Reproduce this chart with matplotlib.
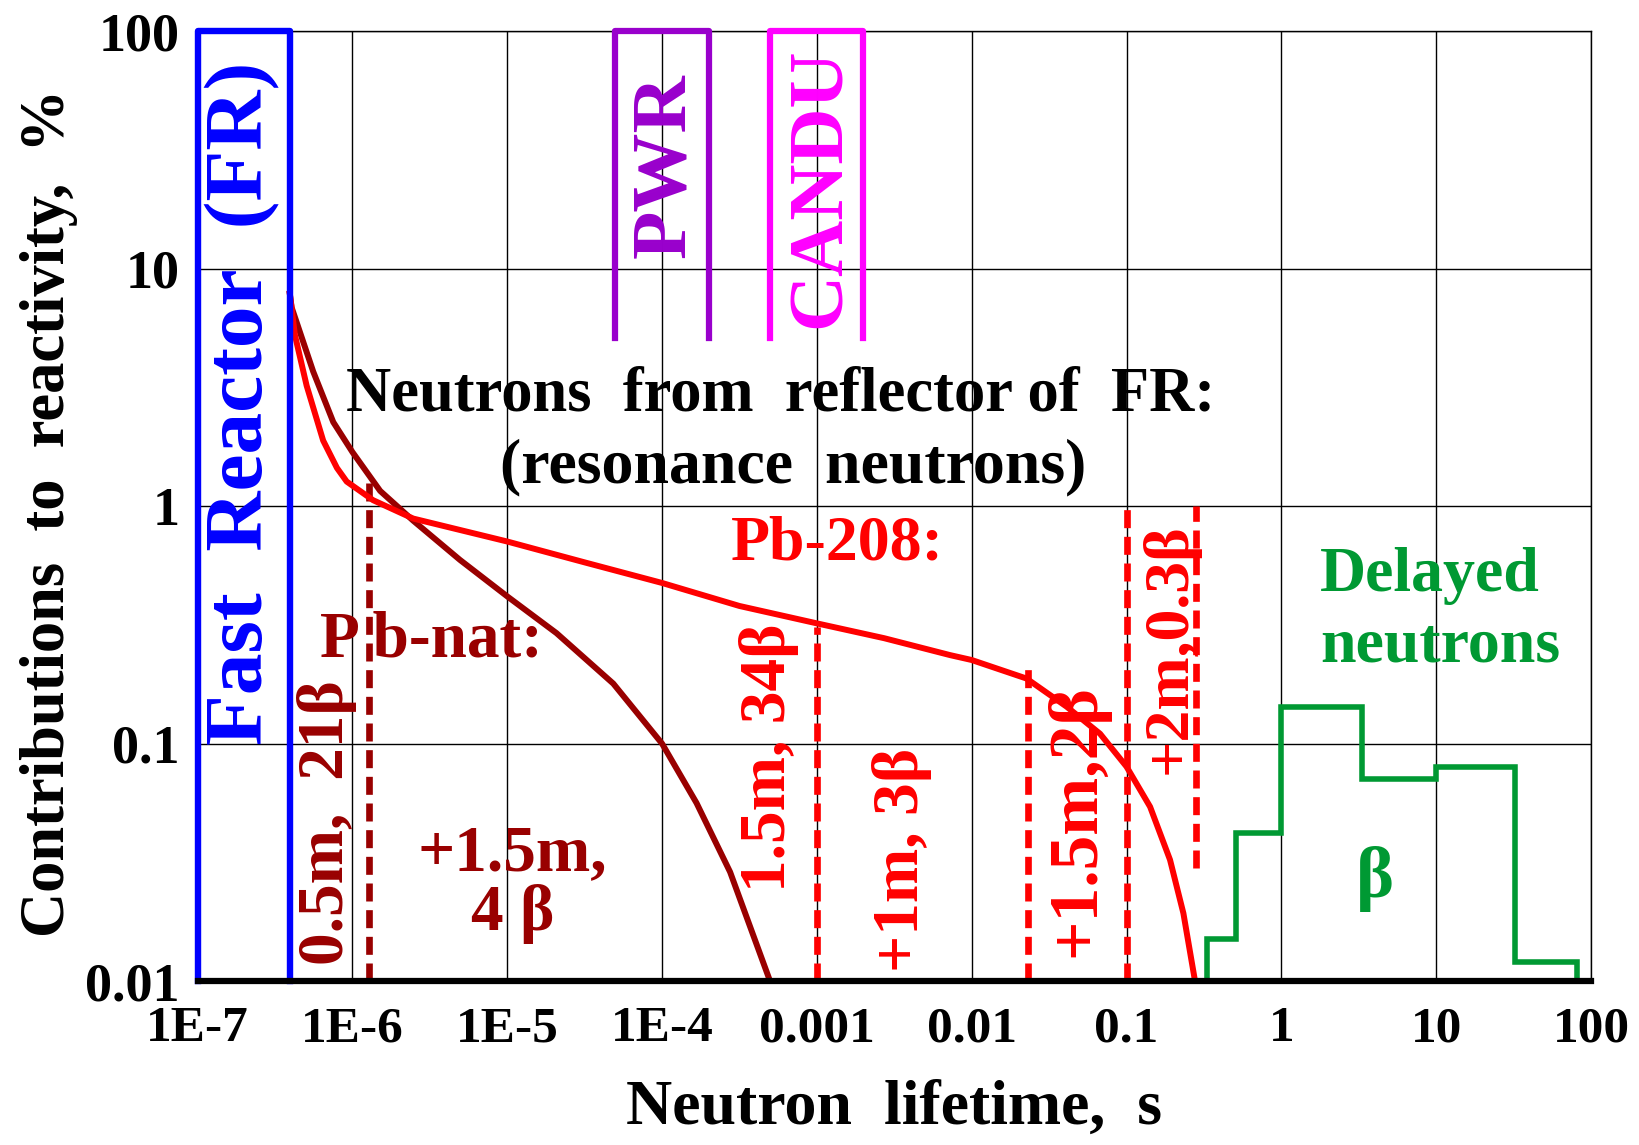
import numpy as np
import matplotlib
matplotlib.use('Agg')
import matplotlib.pyplot as plt

plt.rcParams['font.family'] = ['Liberation Serif', 'DejaVu Serif']
plt.rcParams['font.weight'] = 'bold'

# data
x_ticks = [1e-7, 1e-6, 1e-5, 1e-4, 1e-3, 1e-2, 1e-1, 1, 10, 100]
x_labels = ['1E-7', '1E-6', '1E-5', '1E-4', '0.001', '0.01', '0.1', '1', '10', '100']
y_ticks = [0.01, 0.1, 1, 10, 100]
y_labels = ['0.01', '0.1', '1', '10', '100']

# Pb-208 curve
pb208_t = [3.94e-7, 4.25e-7, 5.06e-7, 6.47e-7, 7.94e-7, 9.18e-7, 1.36e-6, 2.47e-6,
           1e-5, 3.16e-5, 1e-4, 3.16e-4, 1e-3, 2.72e-3, 7.24e-3, 0.01, 0.0226,
           0.0411, 0.0675, 0.1, 0.142, 0.191, 0.233, 0.277]
pb208_c = [7.85, 5.26, 3.22, 1.89, 1.45, 1.27, 1.06, 0.887,
           0.71, 0.58, 0.475, 0.38, 0.321, 0.278, 0.236, 0.225, 0.188,
           0.143, 0.110, 0.080, 0.0542, 0.0324, 0.0193, 0.01]

# Pb-nat curve
pbnat_t = [3.94e-7, 4.05e-7, 5.58e-7, 7.52e-7, 1e-6, 1.51e-6, 2.47e-6, 4.95e-6, 1e-5,
           2.08e-5, 4.84e-5, 1e-4, 1.67e-4, 2.75e-4, 4.98e-4]
pbnat_c = [7.85, 6.87, 3.69, 2.26, 1.69, 1.16, 0.869, 0.594, 0.417,
           0.292, 0.179, 0.100, 0.0562, 0.0288, 0.01]

# delayed neutrons histogram
dn_edges = [0.33, 0.51, 1.0, 3.3, 10.0, 32.5, 81.5]
dn_values = [0.015, 0.042, 0.142, 0.071, 0.08, 0.012]

# reactor lifetime ranges
fr_range = [1e-7, 3.93e-7]
pwr_range = [5e-5, 2e-4]
candu_range = [5e-4, 2e-3]
box_bottom = 5.1

# dashed reflector limits: (position, top value, bottom value)
pbnat_dash = [(1.28e-6, 1.3, 0.01)]
pb208_dash = [(1e-3, 0.31, 0.01), (0.0231, 0.208, 0.01), (0.1, 1.0, 0.01), (0.28, 1.0, 0.03)]

fig = plt.figure(figsize=(16.4, 11.45), dpi=100)
ax = fig.add_axes([0.1205, 0.1432, 0.8496, 0.8294])
ax.set_xscale('log')
ax.set_yscale('log')
ax.set_xlim(1e-7, 100)
ax.set_ylim(0.01, 100)

ax.grid(True, which='major', color='black', lw=1.0, zorder=0)
ax.minorticks_off()
ax.set_xticks(x_ticks)
ax.set_xticklabels(x_labels)
ax.set_yticks(y_ticks)
ax.set_yticklabels(y_labels)
ax.tick_params(axis='x', length=0, pad=18, labelsize=37)
ax.tick_params(axis='y', length=0, pad=13, labelsize=39)
for s in ['top', 'right', 'left']:
    ax.spines[s].set_linewidth(1.0)
ax.spines['bottom'].set_linewidth(4.5)
ax.spines['bottom'].set_zorder(6)

red = '#FF0000'
dred = '#990000'
blue = '#0000FF'
purple = '#9900CC'
magenta = '#FF00FF'
green = '#009933'

# reactor boxes
ax.plot([fr_range[0], fr_range[0], fr_range[1], fr_range[1]], [0.01, 100, 100, 0.01],
        color=blue, lw=4.6, clip_on=False, zorder=5)
ax.plot([pwr_range[0], pwr_range[0], pwr_range[1], pwr_range[1]], [box_bottom, 100, 100, box_bottom],
        color=purple, lw=4.5, clip_on=False, zorder=5)
ax.plot([candu_range[0], candu_range[0], candu_range[1], candu_range[1]], [box_bottom, 100, 100, box_bottom],
        color=magenta, lw=4.5, clip_on=False, zorder=5)

# curves
ax.plot(pbnat_t, pbnat_c, color=dred, lw=4.3, zorder=4, solid_joinstyle='round')
ax.plot(pb208_t, pb208_c, color=red, lw=4.3, zorder=4, solid_joinstyle='round')

for xp, top, bot in pbnat_dash:
    ax.plot([xp, xp], [bot, top], color=dred, lw=4.8, dashes=(2.7, 1.3), zorder=3)
for xp, top, bot in pb208_dash:
    ax.plot([xp, xp], [bot, top], color=red, lw=4.8, dashes=(2.7, 1.3), zorder=3)

ax.stairs(dn_values, dn_edges, baseline=0.01, color=green, lw=4.0, zorder=4)

# texts
ax.text(1.96e-7, 2.72, 'Fast  Reactor  (FR)', color=blue, fontsize=60, rotation=90,
        ha='center', va='center')
ax.text(1.05e-4, 27.3, 'PWR', color=purple, fontsize=57, rotation=90, ha='center', va='center')
ax.text(1.06e-3, 21.9, 'CANDU', color=magenta, fontsize=56, rotation=90, ha='center', va='center')
ax.text(5.8e-4, 2.94, 'Neutrons  from  reflector of  FR:', color='black', fontsize=45,
        ha='center', va='center')
ax.text(7e-4, 1.46, '(resonance  neutrons)', color='black', fontsize=46, ha='center', va='center')
ax.text(1.35e-3, 0.693, 'Pb-208:', color=red, fontsize=46, ha='center', va='center')
ax.text(3.26e-6, 0.273, 'P b-nat:', color=dred, fontsize=47, ha='center', va='center')
ax.text(6.9e-7, 0.0464, '0.5m,  21β', color=dred, fontsize=47, rotation=90, ha='center', va='center')
ax.text(1.08e-5, 0.0256, '+1.5m,\n4 β', color=dred, fontsize=47, ha='center', va='center',
        linespacing=1.0)
ax.text(4.9e-4, 0.0869, '1.5m, 34β', color=red, fontsize=47, rotation=90, ha='center', va='center')
ax.text(3.53e-3, 0.0324, '+1m, 3β', color=red, fontsize=47, rotation=90, ha='center', va='center')
ax.text(0.0479, 0.0472, '+1.5m,2β', color=red, fontsize=50, rotation=90, ha='center', va='center')
ax.text(0.19, 0.251, '+2m,0.3β', color=red, fontsize=46, rotation=90, ha='center', va='center')
ax.text(1.78, 0.361, 'Delayed\nneutrons', color=green, fontsize=46, ha='left', va='center',
        linespacing=1.3)
ax.text(4.05, 0.027, 'β', color=green, fontsize=52, ha='center', va='center')

ax.set_xlabel('Neutron  lifetime,  s', fontsize=46, fontweight='bold', labelpad=20)
ax.set_ylabel('Contributions  to  reactivity,  %', fontsize=45, fontweight='bold')
ax.yaxis.set_label_coords(-0.0856, 0.493)

fig.savefig('out.png', dpi=100)
